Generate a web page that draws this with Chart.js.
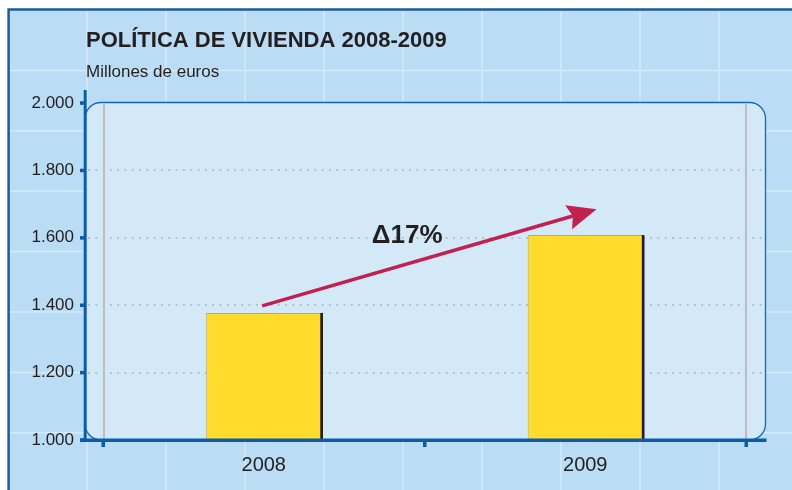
<!DOCTYPE html>
<html>
<head>
<meta charset="utf-8">
<script src="https://cdn.jsdelivr.net/npm/chart.js@4.4.0/dist/chart.umd.min.js"></script>
<style>
  html, body { margin: 0; padding: 0; background: #fff; }
  canvas { display: block; }
</style>
</head>
<body>
<canvas id="chart" width="792" height="490"></canvas>
<script>
// datos (millones de euros)
const years = ['2008', '2009'];
const gasto = [1377, 1608];
const yTicks = [1000, 1200, 1400, 1600, 1800, 2000];

// flecha y rótulo, en coordenadas de datos [índice de categoría, valor]
const arrowFrom = [-0.005, 1398];
const arrowTo = [1.035, 1685];
const deltaAt = [0.446, 1585];
const deltaLabel = '\u039417%';

const titleText = 'POLÍTICA DE VIVIENDA 2008-2009';
const subtitleText = 'Millones de euros';

const FONT = "'Liberation Sans', Arial, sans-serif";
const INK = '#231f20';
const AXIS_BLUE = '#0b5cab';

function fmt(v) {
    return String(v).replace(/\B(?=(\d{3})+(?!\d))/g, '.');
}

const deco = {
    id: 'deco',
    beforeDraw(chart) {
        const { ctx, chartArea: a, scales: { y } } = chart;
        const W = chart.width, H = chart.height;
        ctx.save();
        ctx.fillStyle = '#fff';
        ctx.fillRect(0, 0, W, H);

        // fondo cuadriculado
        ctx.fillStyle = '#badcf4';
        ctx.fillRect(8, 9, W - 8, H - 9);
        ctx.strokeStyle = '#d3eafa';
        ctx.lineWidth = 1.5;
        ctx.beginPath();
        for (let gx = 87; gx < W; gx += 79) { ctx.moveTo(gx, 10); ctx.lineTo(gx, H); }
        for (let gy = 70.4; gy < H; gy += 60.4) { ctx.moveTo(9, gy); ctx.lineTo(W, gy); }
        ctx.stroke();

        // marco exterior
        ctx.strokeStyle = '#1d5c9c';
        ctx.lineWidth = 2.5;
        ctx.beginPath();
        ctx.moveTo(8.6, H);
        ctx.lineTo(8.6, 9.5);
        ctx.lineTo(W, 9.5);
        ctx.stroke();

        // panel del gráfico
        const L = a.left - 18, R = a.right + 19.5;
        const T = y.getPixelForValue(2000) - 0.5, B = a.bottom;
        ctx.fillStyle = '#d3e9f8';
        ctx.strokeStyle = '#1566b3';
        ctx.lineWidth = 1.3;
        ctx.beginPath();
        ctx.roundRect(L, T, R - L, B - T, 16);
        ctx.fill();
        ctx.stroke();

        // líneas grises verticales
        ctx.fillStyle = '#bdbdbd';
        ctx.fillRect(a.left, T + 1, 2, B - T - 1);
        ctx.fillRect(a.right - 1, T + 1, 2, B - T - 1);

        // rejilla punteada
        ctx.strokeStyle = '#b7c1ca';
        ctx.lineWidth = 2;
        ctx.setLineDash([2, 5.3]);
        yTicks.forEach(v => {
            if (v <= y.min || v >= y.max) return;
            const py = Math.round(y.getPixelForValue(v));
            ctx.beginPath();
            ctx.moveTo(L + 3, py);
            ctx.lineTo(R, py);
            ctx.stroke();
        });
        ctx.restore();
    },
    afterDatasetsDraw(chart) {
        const { ctx, chartArea: a } = chart;
        ctx.save();
        ctx.fillStyle = INK;
        chart.getDatasetMeta(0).data.forEach(bar => {
            const p = bar.getProps(['x', 'y', 'width'], true);
            ctx.fillRect(p.x + p.width / 2 - 1, p.y, 2.7, a.bottom - p.y);
        });
        ctx.restore();
    },
    afterDraw(chart) {
        const { ctx, chartArea: a, scales: { x, y } } = chart;
        const R = a.right + 19.5;
        ctx.save();

        // ejes
        ctx.fillStyle = AXIS_BLUE;
        ctx.fillRect(a.left - 19.3, 90, 3, a.bottom + 2 - 90);
        ctx.fillRect(80, a.bottom - 1.5, R - 80 + 1, 3.5);
        yTicks.forEach(v => {
            const py = y.getPixelForValue(v);
            ctx.fillRect(80, py - 1.7, 5, 3.5);
        });
        for (let k = 0; k <= years.length; k++) {
            const px = x.getPixelForValue(k - 0.5);
            ctx.fillRect(px - 1.5, a.bottom, 3.5, 7);
        }

        // flecha
        const x0 = x.getPixelForValue(arrowFrom[0]), y0 = y.getPixelForValue(arrowFrom[1]);
        const x1 = x.getPixelForValue(arrowTo[0]), y1 = y.getPixelForValue(arrowTo[1]);
        const ang = Math.atan2(y1 - y0, x1 - x0);
        const c = Math.cos(ang), s = Math.sin(ang);
        const head = 29, hw = 12.4;
        ctx.strokeStyle = '#c2204f';
        ctx.fillStyle = '#c2204f';
        ctx.lineWidth = 3.6;
        ctx.beginPath();
        ctx.moveTo(x0, y0);
        ctx.lineTo(x1 - c * head * 0.85, y1 - s * head * 0.85);
        ctx.stroke();
        ctx.beginPath();
        ctx.moveTo(x1, y1);
        ctx.lineTo(x1 - c * head - s * hw, y1 - s * head + c * hw);
        ctx.lineTo(x1 - c * head * 0.85, y1 - s * head * 0.85);
        ctx.lineTo(x1 - c * head + s * hw, y1 - s * head - c * hw);
        ctx.closePath();
        ctx.fill();

        // rótulo de variación
        ctx.fillStyle = INK;
        ctx.font = 'bold 26px ' + FONT;
        ctx.textAlign = 'center';
        ctx.textBaseline = 'alphabetic';
        ctx.fillText(deltaLabel, x.getPixelForValue(deltaAt[0]), y.getPixelForValue(deltaAt[1]));

        // título y subtítulo
        ctx.textAlign = 'left';
        ctx.font = 'bold 22px ' + FONT;
        ctx.fillText(titleText, 86, 46.5);
        ctx.font = '17px ' + FONT;
        ctx.fillText(subtitleText, 86, 76.5);
        ctx.restore();
    }
};

new Chart(document.getElementById('chart'), {
    type: 'bar',
    data: {
        labels: years,
        datasets: [{
            data: gasto,
            backgroundColor: '#ffdc2c',
            borderColor: '#c9ad3c',
            borderWidth: { left: 1, top: 1, right: 0, bottom: 0 },
            borderSkipped: false,
            barPercentage: 0.358,
            categoryPercentage: 1
        }]
    },
    options: {
        responsive: false,
        maintainAspectRatio: false,
        animation: false,
        devicePixelRatio: 1,
        layout: { padding: { top: 103, right: 46, left: 0, bottom: 0 } },
        plugins: {
            legend: { display: false },
            tooltip: { enabled: false },
            title: { display: false }
        },
        scales: {
            x: {
                offset: true,
                afterFit: s => { s.height = 50; },
                grid: { display: false, drawTicks: false },
                border: { display: false },
                ticks: { padding: 13, color: INK, font: { family: FONT, size: 20 } }
            },
            y: {
                min: 1000,
                max: 2000,
                afterBuildTicks: s => { s.ticks = yTicks.map(v => ({ value: v })); },
                afterFit: s => { s.width = 103; },
                grid: { display: false, drawTicks: false },
                border: { display: false },
                ticks: { padding: 29, color: INK, font: { family: FONT, size: 17 }, callback: v => fmt(v) }
            }
        }
    },
    plugins: [deco]
});
</script>
</body>
</html>
